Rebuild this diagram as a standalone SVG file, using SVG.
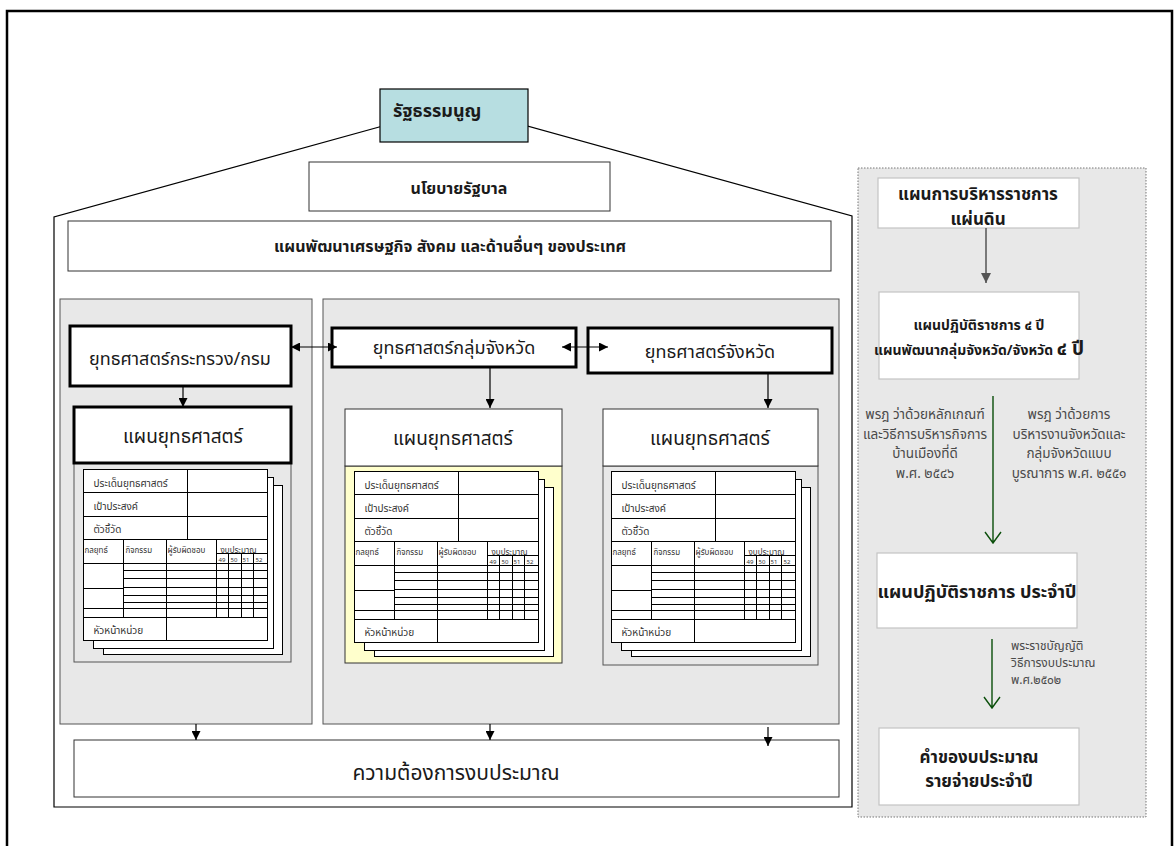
<svg xmlns="http://www.w3.org/2000/svg" xmlns:xlink="http://www.w3.org/1999/xlink" width="1174" height="846" viewBox="0 0 1174 846">
<style>
  .t{font-family:"Noto Sans Thai","Tahoma","DejaVu Sans","Noto Sans",sans-serif;fill:#1a1a1a}
  .b{font-weight:bold}
  .c{text-anchor:middle}
  .ft{font-family:"Noto Sans Thai","Tahoma","DejaVu Sans",sans-serif;fill:#333;stroke:none}
  .side{font-family:"Noto Sans Thai","Tahoma","DejaVu Sans",sans-serif;fill:#4a4a4a;font-size:13.5px;text-anchor:middle}
  .law{font-family:"Noto Sans Thai","Tahoma","DejaVu Sans",sans-serif;fill:#4a4a4a;font-size:12px;text-anchor:start}
  .panel{fill:#e8e8e8;stroke:#555;stroke-width:1}
  .box{fill:#fff;stroke:#333;stroke-width:1}
  .thick{fill:#fff;stroke:#000;stroke-width:3}
  .rbox{fill:#fff;stroke:#c4c4c4;stroke-width:1.2}
  .conn{stroke:#000;stroke-width:1.2;fill:none}
</style>
<defs>
  <marker id="ah" viewBox="0 0 10 10" refX="10" refY="5" markerWidth="9" markerHeight="9" markerUnits="userSpaceOnUse" orient="auto-start-reverse">
    <path d="M0,0 L10,5 L0,10 z" fill="#000"/>
  </marker>
  <marker id="ahg" viewBox="0 0 10 10" refX="10" refY="5" markerWidth="10" markerHeight="10" markerUnits="userSpaceOnUse" orient="auto">
    <path d="M0,0 L10,5 L0,10 z" fill="#555"/>
  </marker>
  <g id="form" fill="none" stroke="#000" stroke-width="1">
    <rect x="20" y="16" width="179" height="169" fill="#fff"/>
    <rect x="10" y="8" width="180" height="171" fill="#fff"/>
    <rect x="0" y="0" width="184" height="171" fill="#fff"/>
    <path d="M0 23H184M0 47H184M0 70H184M104 0V70M0 94H184M40 70V148M83 70V171M133 70V148M133 84H184M145 84V148M158 84V148M170 84V148M40 101H184M40 109H184M40 118H184M40 126H184M40 133H184M40 139H184M0 119H40M0 139H40M0 148H184"/>
    <text class="ft" x="10" y="17" font-size="10">ประเด็นยุทธศาสตร์</text>
    <text class="ft" x="10" y="40" font-size="10">เป้าประสงค์</text>
    <text class="ft" x="10" y="63" font-size="10">ตัวชี้วัด</text>
    <text class="ft" x="1" y="83" font-size="8">กลยุทธ์</text>
    <text class="ft" x="42" y="83" font-size="8">กิจกรรม</text>
    <text class="ft" x="84" y="83" font-size="8">ผู้รับผิดชอบ</text>
    <text class="ft" x="137" y="83" font-size="8">งบประมาณ</text>
    <text class="ft" x="135" y="92" font-size="6">49</text>
    <text class="ft" x="147" y="92" font-size="6">50</text>
    <text class="ft" x="159" y="92" font-size="6">51</text>
    <text class="ft" x="172" y="92" font-size="6">52</text>
    <text class="ft" x="10" y="164" font-size="10">หัวหน้าหน่วย</text>
  </g>
</defs>

<rect x="7" y="11" width="1165" height="850" fill="none" stroke="#000" stroke-width="2.5"/>

<g id="house">
  <path d="M54 807V217L455 106L852 216V807Z" fill="#fff" stroke="#000" stroke-width="1.2"/>
</g>

<g id="constitution">
  <rect x="380" y="89" width="148" height="53" fill="#b7dee1" stroke="#000" stroke-width="1.2"/>
  <text class="t b" x="393" y="117" font-size="18">รัฐธรรมนูญ</text>
</g>

<g id="gov-policy">
  <rect class="box" x="309" y="162" width="301" height="49" stroke="#000"/>
  <text class="t b c" x="459" y="194" font-size="16">นโยบายรัฐบาล</text>
</g>

<g id="national-plan">
  <rect class="box" x="68" y="221" width="763" height="50" stroke="#444"/>
  <text class="t b c" x="450" y="252" font-size="16">แผนพัฒนาเศรษฐกิจ สังคม และด้านอื่นๆ ของประเทศ</text>
</g>

<g id="panel-left">
  <rect class="panel" x="60" y="299" width="252" height="425"/>
</g>
<g id="panel-middle">
  <rect class="panel" x="323" y="299" width="516" height="425"/>
</g>

<g id="ministry-strategy">
  <rect class="thick" x="70" y="326" width="221" height="60"/>
  <text class="t c" x="180" y="365" font-size="18">ยุทธศาสตร์กระทรวง/กรม</text>
</g>
<g id="cluster-strategy">
  <rect class="thick" x="332" y="328" width="244" height="39"/>
  <text class="t c" x="454" y="354" font-size="18">ยุทธศาสตร์กลุ่มจังหวัด</text>
</g>
<g id="province-strategy">
  <rect class="thick" x="588" y="328" width="244" height="45"/>
  <text class="t c" x="710" y="358" font-size="18">ยุทธศาสตร์จังหวัด</text>
</g>

<g id="plan-left">
  <rect class="panel" x="74" y="463" width="217" height="199" stroke="#333"/>
  <rect class="thick" x="74" y="407" width="217" height="56"/>
  <text class="t c" x="183" y="443" font-size="19">แผนยุทธศาสตร์</text>
  <use xlink:href="#form" x="83.5" y="469.5"/>
</g>
<g id="plan-middle">
  <rect x="345" y="466" width="217" height="197" fill="#ffffcc" stroke="#333" stroke-width="1"/>
  <rect class="box" x="345" y="409" width="217" height="57"/>
  <text class="t c" x="453" y="445" font-size="19">แผนยุทธศาสตร์</text>
  <use xlink:href="#form" x="354.5" y="471.5"/>
</g>
<g id="plan-right">
  <rect class="panel" x="603" y="466" width="215" height="199" stroke="#333"/>
  <rect class="box" x="603" y="409" width="215" height="57"/>
  <text class="t c" x="710" y="445" font-size="19">แผนยุทธศาสตร์</text>
  <use xlink:href="#form" x="611.5" y="471.5"/>
</g>

<g id="budget-need">
  <rect class="box" x="74" y="740" width="765" height="57" stroke="#000"/>
  <text class="t c" x="456" y="780" font-size="21">ความต้องการงบประมาณ</text>
</g>

<g id="right-panel">
  <rect x="858" y="168" width="288" height="649" fill="#e8e8e8" stroke="#777" stroke-width="1" stroke-dasharray="1.5 1.5"/>
</g>
<g id="admin-plan">
  <rect class="rbox" x="878" y="178" width="201" height="50"/>
  <text class="t b c" x="978" y="200" font-size="17">แผนการบริหารราชการ</text>
  <text class="t b c" x="978" y="225" font-size="17">แผ่นดิน</text>
</g>
<g id="four-year-plan">
  <rect class="rbox" x="879" y="292" width="200" height="87"/>
  <text class="t b c" x="979" y="330" font-size="14">แผนปฏิบัติราชการ ๔ ปี</text>
  <text class="t b c" x="979" y="355" font-size="14">แผนพัฒนากลุ่มจังหวัด/จังหวัด <tspan font-size="19">๔ ปี</tspan></text>
</g>
<g id="annual-plan">
  <rect class="rbox" x="877" y="553" width="200" height="75"/>
  <text class="t b c" x="977" y="598" font-size="18">แผนปฏิบัติราชการ ประจำปี</text>
</g>
<g id="budget-request">
  <rect class="rbox" x="879" y="728" width="200" height="77"/>
  <text class="t b c" x="979" y="763" font-size="17">คำของบประมาณ</text>
  <text class="t b c" x="979" y="787" font-size="17">รายจ่ายประจำปี</text>
</g>

<g id="right-labels">
  <text class="side" x="925" y="419">พรฎ ว่าด้วยหลักเกณฑ์</text>
  <text class="side" x="925" y="439">และวิธีการบริหารกิจการ</text>
  <text class="side" x="925" y="458">บ้านเมืองที่ดี</text>
  <text class="side" x="925" y="478">พ.ศ. ๒๕๔๖</text>
  <text class="side" x="1069" y="419">พรฎ ว่าด้วยการ</text>
  <text class="side" x="1069" y="439">บริหารงานจังหวัดและ</text>
  <text class="side" x="1069" y="458">กลุ่มจังหวัดแบบ</text>
  <text class="side" x="1069" y="478">บูรณาการ พ.ศ. ๒๕๕๑</text>
  <text class="law" x="1011" y="650">พระราชบัญญัติ</text>
  <text class="law" x="1011" y="667">วิธีการงบประมาณ</text>
  <text class="law" x="1011" y="684">พ.ศ.๒๕๐๒</text>
</g>

<g id="connectors">
  <path class="conn" d="M291 347H337" marker-start="url(#ah)" marker-end="url(#ah)"/>
  <path class="conn" d="M562 347H608" marker-start="url(#ah)" marker-end="url(#ah)"/>
  <path class="conn" d="M183 386V407" marker-end="url(#ah)"/>
  <path class="conn" d="M490 367V408" marker-end="url(#ah)"/>
  <path class="conn" d="M768 373V408" marker-end="url(#ah)"/>
  <path class="conn" d="M196 724V740" marker-end="url(#ah)"/>
  <path class="conn" d="M490 724V740" marker-end="url(#ah)"/>
  <path class="conn" d="M768 727V746" marker-end="url(#ah)"/>
  <path d="M986 228V283" stroke="#555" stroke-width="1.5" fill="none" marker-end="url(#ahg)"/>
  <path d="M993 396V543M985 532L993 543L1001 532" stroke="#0b4f0b" stroke-width="1.4" fill="none"/>
  <path d="M992 639V708M984 697L992 708L1000 697" stroke="#0b4f0b" stroke-width="1.4" fill="none"/>
</g>
</svg>
